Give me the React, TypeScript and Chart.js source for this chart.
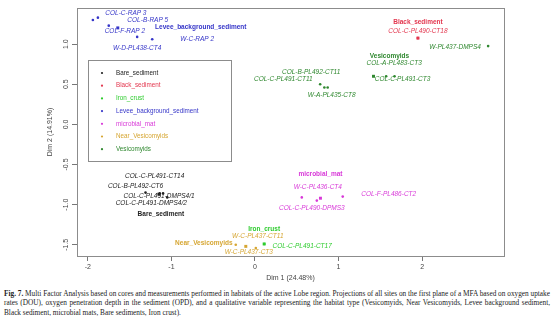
import React, { useEffect, useRef } from "react";
import { Chart, registerables } from "chart.js";

Chart.register(...registerables);

// ---------- DATA ----------
const habitats = [
  "Bare_sediment",
  "Black_sediment",
  "Iron_crust",
  "Levee_background_sediment",
  "microbial_mat",
  "Near_Vesicomyids",
  "Vesicomyids",
];

const siteNames = [
  "COL-B-PL492-CT6",
  "COL-C-PL491-CT14",
  "COL-C-PL491-DMPS4/1",
  "COL-C-PL491-DMPS4/2",
  "COL-C-PL490-CT18",
  "COL-C-PL491-CT17",
  "COL-C-RAP 3",
  "COL-B-RAP 5",
  "COL-F-RAP 2",
  "W-D-PL438-CT4",
  "W-C-RAP 2",
  "W-C-PL436-CT4",
  "COL-C-PL490-DPMS3",
  "COL-F-PL486-CT2",
  "W-C-PL437-CT3",
  "W-C-PL437-CT11",
  "W-PL437-DMPS4",
  "COL-A-PL483-CT3",
  "COL-C-PL491-CT3",
  "COL-B-PL492-CT11",
  "COL-C-PL491-CT11",
  "W-A-PL435-CT8",
];

const siteHabitat = [
  "Bare_sediment",
  "Bare_sediment",
  "Bare_sediment",
  "Bare_sediment",
  "Black_sediment",
  "Iron_crust",
  "Levee_background_sediment",
  "Levee_background_sediment",
  "Levee_background_sediment",
  "Levee_background_sediment",
  "Levee_background_sediment",
  "microbial_mat",
  "microbial_mat",
  "microbial_mat",
  "Near_Vesicomyids",
  "Near_Vesicomyids",
  "Vesicomyids",
  "Vesicomyids",
  "Vesicomyids",
  "Vesicomyids",
  "Vesicomyids",
  "Vesicomyids",
];

const siteDim1 = [
  -1.31, -1.14, -1.1, -1.05, 1.95, 0.11, -1.88, -1.75, -1.94, -1.41, -1.23,
  0.56, 0.74, 1.05, -0.23, 0.01, 2.79, 1.57, 1.67, 0.78, 0.83, 0.87,
];

const siteDim2 = [
  -0.85, -0.86, -0.86, -0.91, 1.075, -1.49, 1.33, 1.23, 1.3, 1.09, 1.06,
  -0.91, -0.95, -0.9, -1.5, -1.54, 0.975, 0.6, 0.6, 0.5, 0.46, 0.46,
];

const xTicks = [-2, -1, 0, 1, 2];
const yTicks = [-1.5, -1.0, -0.5, 0.0, 0.5, 1.0];
const xTickLabels = ["-2", "-1", "0", "1", "2"];
const yTickLabels = ["-1.5", "-1.0", "-0.5", "0.0", "0.5", "1.0"];
const xAxisTitle = "Dim 1 (24.48%)";
const yAxisTitle = "Dim 2 (14.91%)";

// ---------- STYLE / LAYOUT ----------
const HABITAT_COLORS: Record<string, string> = {
  Bare_sediment: "#222222",
  Black_sediment: "#e3364e",
  Iron_crust: "#2ecc2e",
  Levee_background_sediment: "#3535c8",
  microbial_mat: "#d838d8",
  Near_Vesicomyids: "#d6a632",
  Vesicomyids: "#2f882f",
};

// label offsets (pixels) from each site point, same order as siteNames
const SITE_LABEL_OFFSETS: [number, number][] = [
  [-10, -6],
  [-5, -17],
  [-4, 3],
  [-16, 6],
  [0, -7],
  [38, 2],
  [28, -4],
  [39, -5],
  [32, 11],
  [0, 11],
  [45, 0],
  [16, -10],
  [-5, 8],
  [46, -2],
  [13, 7],
  [2, -12],
  [-33, 1],
  [8, -13],
  [8, 3],
  [-9, -12],
  [-41, -8],
  [4, 8],
];

// bold habitat label offsets (pixels) from the centroid, same order as habitats
const HABITAT_LABEL_OFFSETS: [number, number][] = [
  [2, 20],
  [0, -16],
  [0, -15],
  [83, -1],
  [0, -24],
  [-42, -3],
  [16, -20],
];

const FONT = '"Liberation Sans", Arial, sans-serif';
const AXIS_COLOR = "#777777";
const TEXT_COLOR = "#444444";

function mean(a: number[]) {
  return a.reduce((s, v) => s + v, 0) / a.length;
}

export default function App() {
  const ref = useRef<HTMLCanvasElement | null>(null);

  useEffect(() => {
    if (!ref.current) return;

    const datasets: any[] = [];
    habitats.forEach((h, hi) => {
      const idx = siteNames.map((_, i) => i).filter((i) => siteHabitat[i] === h);
      datasets.push({
        label: h,
        kind: "sites",
        habitatIndex: hi,
        siteIdx: idx,
        data: idx.map((i) => ({ x: siteDim1[i], y: siteDim2[i] })),
        pointStyle: "circle",
        pointRadius: 1.3,
        pointBackgroundColor: HABITAT_COLORS[h],
        pointBorderWidth: 0,
        showLine: false,
      });
    });
    habitats.forEach((h, hi) => {
      const idx = siteNames.map((_, i) => i).filter((i) => siteHabitat[i] === h);
      datasets.push({
        label: h + " (centroid)",
        kind: "centroid",
        habitatIndex: hi,
        data: [
          { x: mean(idx.map((i) => siteDim1[i])), y: mean(idx.map((i) => siteDim2[i])) },
        ],
        pointStyle: "rect",
        pointRadius: 2.1,
        pointBackgroundColor: HABITAT_COLORS[h],
        pointBorderWidth: 0,
        showLine: false,
      });
    });

    const labelsPlugin = {
      id: "pointLabels",
      afterDatasetsDraw(chart: any) {
        const ctx = chart.ctx;
        ctx.save();
        ctx.textAlign = "center";
        ctx.textBaseline = "middle";
        chart.data.datasets.forEach((ds: any, di: number) => {
          const meta = chart.getDatasetMeta(di);
          const color = HABITAT_COLORS[habitats[ds.habitatIndex]];
          ctx.fillStyle = color;
          meta.data.forEach((el: any, j: number) => {
            if (ds.kind === "sites") {
              const si = ds.siteIdx[j];
              const [dx, dy] = SITE_LABEL_OFFSETS[si];
              ctx.font = `italic 6.5px ${FONT}`;
              ctx.fillText(siteNames[si], el.x + dx, el.y + dy);
            } else {
              const [dx, dy] = HABITAT_LABEL_OFFSETS[ds.habitatIndex];
              ctx.font = `bold 6.5px ${FONT}`;
              ctx.fillText(habitats[ds.habitatIndex], el.x + dx, el.y + dy);
            }
          });
        });
        ctx.restore();
      },
    };

    const framePlugin = {
      id: "frameLegend",
      afterDraw(chart: any) {
        const ctx = chart.ctx;
        const a = chart.chartArea;
        ctx.save();
        // plot box
        ctx.strokeStyle = "#8c8c8c";
        ctx.lineWidth = 1;
        ctx.strokeRect(Math.round(a.left) + 0.5, Math.round(a.top) + 0.5, Math.round(a.right - a.left), Math.round(a.bottom - a.top));

        // y tick labels (rotated, R style)
        const ys = chart.scales.y;
        ctx.fillStyle = TEXT_COLOR;
        ctx.font = `7px ${FONT}`;
        ctx.textAlign = "center";
        ctx.textBaseline = "middle";
        ys.ticks.forEach((t: any, i: number) => {
          const py = ys.getPixelForValue(t.value);
          ctx.save();
          ctx.translate(a.left - 10.5, py);
          ctx.rotate(-Math.PI / 2);
          ctx.fillText(yTickLabels[i], 0, 0);
          ctx.restore();
        });

        // legend box
        const lx = a.left + 11;
        const ly = a.top + 52;
        const lw = 143;
        const lh = 101;
        ctx.strokeStyle = "#8c8c8c";
        ctx.strokeRect(Math.round(lx) + 0.5, Math.round(ly) + 0.5, lw, lh);
        ctx.textAlign = "left";
        ctx.font = `6.3px ${FONT}`;
        habitats.forEach((h, i) => {
          const ry = ly + 13 + i * 12.7;
          ctx.fillStyle = HABITAT_COLORS[h];
          ctx.beginPath();
          ctx.arc(lx + 14, ry, 1.1, 0, Math.PI * 2);
          ctx.fill();
          ctx.fillText(h, lx + 28, ry);
        });
        ctx.restore();
      },
    };

    const chart = new Chart(ref.current, {
      type: "scatter",
      data: { datasets },
      options: {
        animation: false,
        responsive: false,
        devicePixelRatio: 1,
        layout: { padding: { left: 0, top: 8, right: 50, bottom: 0 } },
        plugins: { legend: { display: false }, tooltip: { enabled: false } },
        scales: {
          x: {
            type: "linear",
            min: -2.13,
            max: 2.98,
            afterBuildTicks: (s: any) => {
              s.ticks = xTicks.map((v) => ({ value: v }));
            },
            afterFit: (s: any) => {
              s.height = 29;
            },
            ticks: {
              color: TEXT_COLOR,
              font: { family: FONT, size: 7 },
              padding: 2,
              maxRotation: 0,
              callback: (v: any) => {
                const i = xTicks.indexOf(Number(v));
                return i >= 0 ? xTickLabels[i] : "";
              },
            },
            grid: {
              display: true,
              drawOnChartArea: false,
              drawTicks: true,
              tickLength: 5,
              color: AXIS_COLOR,
            },
            border: { display: false },
            title: {
              display: true,
              text: xAxisTitle,
              color: TEXT_COLOR,
              font: { family: FONT, size: 7 },
              padding: { top: 0, bottom: 3 },
            },
          },
          y: {
            type: "linear",
            min: -1.64,
            max: 1.45,
            afterBuildTicks: (s: any) => {
              s.ticks = yTicks.map((v) => ({ value: v }));
            },
            afterFit: (s: any) => {
              s.width = 77;
            },
            ticks: { display: false },
            grid: {
              display: true,
              drawOnChartArea: false,
              drawTicks: true,
              tickLength: 5,
              color: AXIS_COLOR,
            },
            border: { display: false },
            title: {
              display: true,
              text: yAxisTitle,
              color: TEXT_COLOR,
              font: { family: FONT, size: 7 },
              padding: { top: 46, bottom: 0 },
            },
          },
        },
      },
      plugins: [labelsPlugin, framePlugin],
    } as any);

    return () => chart.destroy();
  }, []);

  const lineStyle: React.CSSProperties = {
    textAlign: "justify",
    textAlignLast: "justify" as any,
    whiteSpace: "normal",
    height: "9.4px",
  };

  return (
    <div
      style={{
        position: "fixed",
        left: 0,
        top: 0,
        width: 554,
        height: 323,
        background: "#ffffff",
        overflow: "hidden",
      }}
    >
      <canvas ref={ref} width={554} height={285} style={{ display: "block", width: 554, height: 285 }} />
      <div
        style={{
          position: "absolute",
          left: 4,
          top: 289,
          width: 546,
          fontFamily: '"Liberation Serif", "Times New Roman", serif',
          fontSize: "7.3px",
          lineHeight: "9.4px",
          color: "#222",
        }}
      >
        <div style={lineStyle}>
          <b>Fig. 7.</b> Multi Factor Analysis based on cores and measurements performed in habitats of the active Lobe region. Projections of all sites on the first plane of a MFA based on oxygen uptake
        </div>
        <div style={lineStyle}>
          rates (DOU), oxygen penetration depth in the sediment (OPD), and a qualitative variable representing the habitat type (Vesicomyids, Near Vesicomyids, Levee background sediment,
        </div>
        <div style={{ textAlign: "left" }}>
          Black sediment, microbial mats, Bare sediments, Iron crust).
        </div>
      </div>
    </div>
  );
}
